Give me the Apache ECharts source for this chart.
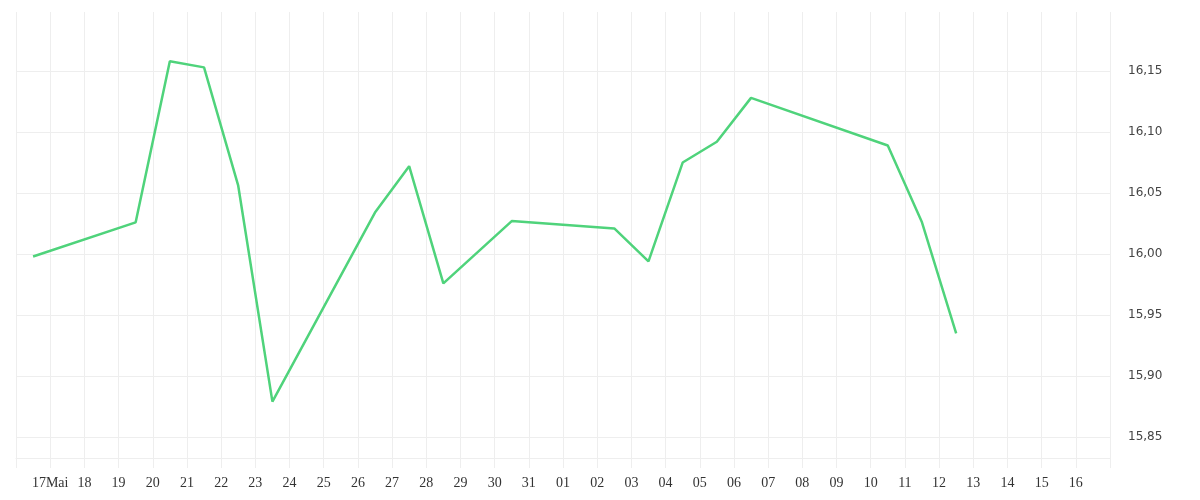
<!DOCTYPE html>
<html>
<head>
<meta charset="utf-8">
<script src="https://cdn.jsdelivr.net/npm/echarts@6/dist/echarts.min.js"></script>
<style>html,body{margin:0;padding:0;background:#fff}#c{width:1200px;height:500px}</style>
</head>
<body>
<div id="c"></div>
<script>
// Trading days (data points sit at midday of each day), 2025
const dates = ['2025-05-16','2025-05-19','2025-05-20','2025-05-21','2025-05-22','2025-05-23',
  '2025-05-26','2025-05-27','2025-05-28','2025-05-30','2025-06-02','2025-06-03','2025-06-04',
  '2025-06-05','2025-06-06','2025-06-10','2025-06-11','2025-06-12'];
const values = [15.998, 16.026, 16.158, 16.153, 16.056, 15.879,
  16.034, 16.072, 15.976, 16.027, 16.021, 15.994, 16.075,
  16.092, 16.128, 16.089, 16.026, 15.935];
const yTicks = [15.85, 15.90, 15.95, 16.00, 16.05, 16.10, 16.15];
const axisStart = '2025-05-16';
const axisEnd = '2025-06-17';
const monthNames = ['Jan','Feb','Mär','Apr','Mai','Jun','Jul','Aug','Sep','Okt','Nov','Dez'];

function toTime(s, hour) {
  const p = s.split('-').map(Number);
  return new Date(p[0], p[1] - 1, p[2], hour || 0).getTime();
}
const DAY = 86400000;
const seriesData = dates.map((d, i) => [toTime(d, 12), values[i]]);
const startTime = toTime(axisStart);
const endTime = toTime(axisEnd);
const firstLabelTime = startTime + DAY;

const chart = echarts.init(document.getElementById('c'));
chart.setOption({
  animation: false,
  grid: { left: 16, right: 90, top: 12, bottom: 42 },
  xAxis: {
    type: 'time',
    min: startTime,
    max: endTime,
    minInterval: DAY,
    maxInterval: DAY,
    axisLine: { show: true, lineStyle: { color: '#eeeeee', width: 1 } },
    axisTick: { show: true, length: 10, lineStyle: { color: '#eeeeee' } },
    splitLine: { show: true, lineStyle: { color: '#eeeeee', width: 1 } },
    axisLabel: {
      showMinLabel: false,
      showMaxLabel: false,
      hideOverlap: false,
      margin: 18,
      color: '#333',
      fontFamily: 'Liberation Serif',
      fontSize: 14,
      formatter: function (v) {
        if (Math.abs(v - startTime) < 3600000 || Math.abs(v - endTime) < 3600000) return '';
        const d = new Date(v);
        const day = String(d.getDate()).padStart(2, '0');
        if (Math.abs(v - firstLabelTime) < 3600000) return day + monthNames[d.getMonth()];
        return day;
      }
    }
  },
  yAxis: {
    type: 'value',
    position: 'right',
    min: 15.8328,
    max: 16.1984,
    axisLine: { show: false },
    axisTick: { show: false, customValues: yTicks },
    splitLine: { show: true, lineStyle: { color: '#eeeeee', width: 1 } },
    axisLabel: {
      customValues: yTicks,
      margin: 18,
      color: '#444',
      fontFamily: 'DejaVu Sans',
      fontSize: 12,
      formatter: v => v.toFixed(2).replace('.', ',')
    }
  },
  series: [{
    type: 'line',
    data: seriesData,
    showSymbol: false,
    symbol: 'none',
    lineStyle: { color: '#4fd37b', width: 2.5 },
    itemStyle: { color: '#4fd37b' }
  }]
});
</script>
</body>
</html>
